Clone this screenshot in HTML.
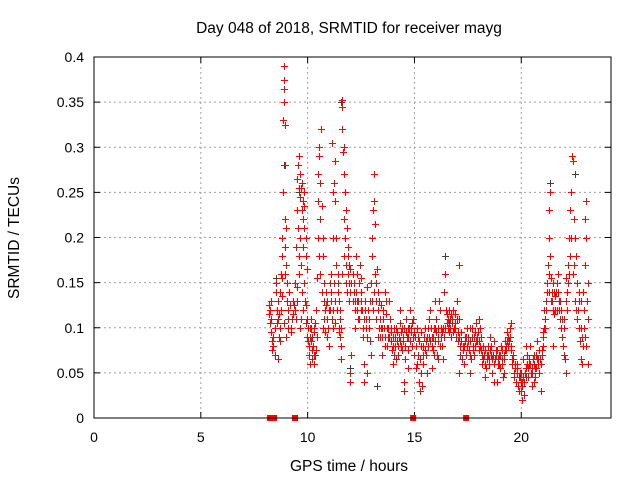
<!DOCTYPE html>
<html><head><meta charset="utf-8">
<style>
html,body{margin:0;padding:0;background:#fff;}
svg{display:block;font-family:"Liberation Sans",sans-serif;}
</style></head>
<body>
<svg id="chart" width="640" height="480" viewBox="0 0 640 480" xmlns="http://www.w3.org/2000/svg">
<rect width="640" height="480" fill="#fff"/>
<text x="349" y="33" font-size="15.5" text-anchor="middle" fill="#000">Day 048 of 2018, SRMTID for receiver mayg</text>
<text x="349" y="471" font-size="15.5" text-anchor="middle" fill="#000">GPS time / hours</text>
<text transform="translate(19,238) rotate(-90)" font-size="15.5" text-anchor="middle" fill="#000">SRMTID / TECUs</text>
<g id="grid"></g>
<g id="ticks"></g>
<g id="marks"></g>
<rect x="94" y="57" width="517" height="361" fill="none" stroke="#000" stroke-width="1"/>
</svg>
<script>
const xTicks = [0,5,10,15,20];
const yTicks = [0,0.05,0.1,0.15,0.2,0.25,0.3,0.35,0.4];
const yTickLabels = ["0","0.05","0.1","0.15","0.2","0.25","0.3","0.35","0.4"];
const redPairs = [
8.2,.125,8.2,.115,8.25,.105,8.3,.13,8.3,.095,8.35,.085,8.35,.075,8.4,.08,8.45,.07,8.45,.10,8.5,.14,8.5,.15,8.55,.12,8.6,.13,8.6,.11,8.65,.09,8.7,.10,8.7,.14,8.75,.16,8.75,.12,8.8,.18,8.8,.2,8.85,.33,8.85,.25,8.88,.39,8.88,.375,8.9,.365,8.9,.35,8.92,.325,8.93,.28,8.95,.22,8.95,.19,9.0,.21,9.0,.17,9.05,.15,9.05,.13,9.1,.11,9.1,.12,9.15,.14,9.2,.1,9.25,.11,9.3,.13,9.3,.115,9.0,.09,8.9,.105,8.7,.085,8.6,.065,
9.4,.15,9.45,.19,9.5,.23,9.5,.265,9.55,.28,9.6,.255,9.6,.29,9.65,.245,9.7,.255,9.75,.26,9.8,.24,9.8,.22,9.85,.21,9.85,.235,9.9,.2,9.9,.18,9.7,.17,9.6,.16,9.5,.13,9.75,.14,9.8,.12,9.9,.125,9.95,.11,10.0,.1,10.0,.085,9.7,.11,9.4,.12,9.55,.21,9.85,.25,9.95,.165,
10.05,.07,10.1,.06,10.1,.09,10.15,.1,10.2,.075,10.2,.065,10.25,.08,10.3,.095,10.3,.06,10.35,.07,10.4,.12,10.45,.155,10.5,.24,10.5,.27,10.55,.29,10.55,.3,10.6,.26,10.6,.22,10.62,.32,10.65,.235,10.7,.2,10.7,.18,10.75,.15,10.75,.13,10.8,.12,10.85,.14,10.9,.11,10.9,.09,10.95,.10,10.3,.1,10.4,.075,10.15,.11,
11.0,.08,11.05,.15,11.1,.16,11.1,.13,11.15,.305,11.2,.12,11.2,.25,11.25,.26,11.3,.285,11.3,.24,11.35,.2,11.4,.16,11.4,.14,11.45,.13,11.5,.11,11.5,.09,11.55,.08,11.55,.065,11.6,.352,11.6,.345,11.62,.32,11.65,.295,11.7,.3,11.7,.27,11.75,.25,11.8,.23,11.85,.21,11.9,.19,11.95,.17,12.0,.165,11.75,.2,11.8,.15,11.9,.18,11.95,.13,12.0,.05,12.0,.04,12.05,.07,11.3,.105,11.45,.095,11.2,.1,
12.1,.16,12.15,.14,12.2,.12,12.25,.18,12.3,.13,12.35,.11,12.4,.15,12.45,.17,12.5,.14,12.55,.12,12.6,.09,12.65,.06,12.65,.04,12.7,.13,12.75,.11,12.8,.145,12.85,.1,12.9,.085,12.95,.07,13.0,.18,13.0,.2,13.05,.23,13.1,.27,13.1,.24,13.15,.215,13.15,.16,13.2,.15,13.25,.165,13.3,.14,13.35,.13,13.4,.11,13.45,.125,13.5,.1,13.5,.07,12.3,.16,12.5,.155,12.8,.05,13.3,.09,12.2,.1,
13.55,.12,13.6,.14,13.65,.13,13.7,.1,13.75,.09,13.8,.13,13.85,.11,13.9,.085,13.95,.075,14.0,.09,14.05,.1,14.1,.08,14.15,.065,14.2,.095,14.25,.07,14.3,.105,14.35,.08,14.4,.1,14.45,.085,14.5,.03,14.5,.04,14.55,.065,14.6,.11,14.65,.09,14.7,.075,14.75,.1,14.8,.12,14.85,.095,14.9,.08,14.95,.11,13.6,.08,14.0,.06,14.3,.12,14.7,.055,
15.0,.07,15.05,.055,15.1,.1,15.15,.09,15.2,.04,15.25,.03,15.3,.05,15.3,.08,15.35,.035,15.4,.06,15.45,.09,15.5,.1,15.55,.07,15.6,.05,15.65,.08,15.7,.11,15.75,.12,15.8,.09,15.85,.075,15.9,.1,15.95,.085,16.0,.11,16.05,.07,16.1,.09,16.15,.13,16.2,.12,16.25,.1,16.3,.08,16.35,.065,16.4,.14,16.45,.16,16.5,.105,16.55,.1,16.6,.095,16.65,.11,16.7,.09,16.75,.105,16.8,.12,16.85,.1,16.9,.115,16.95,.09,17.0,.13,17.05,.085,17.1,.05,17.15,.07,17.2,.095,17.25,.08,17.3,.06,17.35,.09,17.4,.07,17.45,.1,16.1,.065,15.8,.055,16.6,.12,17.1,.11,15.95,.13,17.1,.17,
17.5,.09,17.55,.075,17.6,.05,17.65,.065,17.7,.1,17.75,.08,17.8,.07,17.85,.095,17.9,.105,17.95,.085,18.0,.075,18.05,.1,18.1,.09,18.15,.06,18.2,.08,18.25,.07,18.3,.045,18.35,.055,18.4,.065,18.45,.08,18.5,.06,18.55,.09,18.6,.07,18.65,.05,18.7,.085,18.75,.065,18.8,.075,18.85,.04,18.9,.06,18.95,.07,19.0,.055,19.05,.08,19.1,.065,19.15,.045,19.2,.07,19.25,.085,19.3,.075,19.35,.095,19.4,.09,19.45,.1,19.5,.08,19.55,.065,19.6,.07,19.65,.045,19.7,.055,19.75,.04,19.8,.06,19.85,.035,19.9,.03,19.95,.045,18.0,.11,17.6,.1,18.7,.04,19.2,.05,19.5,.105,
20.0,.03,20.0,.05,20.05,.02,20.05,.04,20.1,.065,20.15,.025,20.2,.055,20.25,.07,20.3,.045,20.35,.06,20.4,.08,20.45,.05,20.5,.035,20.55,.065,20.6,.07,20.65,.045,20.7,.055,20.75,.085,20.8,.065,20.85,.05,20.9,.03,20.95,.07,21.0,.08,21.0,.09,20.2,.08,20.6,.04,
21.05,.1,21.1,.11,21.15,.12,21.2,.14,21.25,.17,21.3,.2,21.3,.23,21.35,.25,21.35,.18,21.4,.155,21.45,.13,21.5,.12,21.55,.115,21.6,.135,21.65,.15,21.7,.16,21.75,.13,21.8,.11,21.85,.1,21.9,.09,21.95,.08,22.0,.07,22.05,.065,22.1,.05,22.15,.12,22.2,.17,22.25,.2,22.3,.23,22.35,.25,22.38,.29,22.4,.285,22.45,.22,22.5,.2,22.55,.18,22.6,.15,22.65,.12,22.7,.1,22.75,.085,22.8,.065,22.85,.06,22.9,.14,22.95,.12,23.0,.17,23.0,.22,23.05,.24,23.05,.2,23.1,.15,23.1,.11,22.1,.155,21.5,.08,22.8,.13,23.1,.06
];
const redPairsExtra = [
8.22,.12,8.28,.11,8.4,.09,8.55,.105,8.65,.115,8.78,.135,8.82,.155,8.95,.16,9.08,.1,9.18,.125,9.22,.095,9.35,.125,
9.45,.11,9.52,.145,9.62,.2,9.66,.27,9.72,.23,9.78,.19,9.82,.15,9.88,.13,9.92,.105,9.98,.09,9.65,.1,9.58,.18,
10.08,.08,10.12,.1,10.18,.085,10.22,.09,10.28,.07,10.35,.105,10.42,.09,10.48,.2,10.52,.18,10.58,.16,10.66,.14,10.72,.1,10.78,.11,10.82,.095,10.88,.125,10.92,.13,10.98,.12,
11.05,.12,11.08,.14,11.12,.11,11.18,.2,11.22,.15,11.28,.13,11.32,.17,11.36,.12,11.42,.15,11.48,.1,11.52,.12,11.58,.1,11.62,.16,11.68,.22,11.72,.18,11.78,.17,11.82,.14,11.88,.16,11.92,.15,11.98,.14,
12.05,.15,12.12,.13,12.18,.15,12.22,.13,12.28,.14,12.32,.12,12.38,.13,12.42,.11,12.48,.12,12.52,.13,12.58,.1,12.62,.11,12.68,.12,12.72,.1,12.78,.09,12.82,.12,12.88,.11,12.92,.13,12.98,.15,13.02,.13,13.08,.12,13.12,.14,13.18,.13,13.22,.11,13.28,.12,13.32,.1,13.38,.09,13.42,.1,13.48,.09,
13.52,.11,13.58,.1,13.62,.09,13.68,.115,13.72,.08,13.78,.1,13.82,.09,13.88,.1,13.92,.095,13.98,.08,14.02,.07,14.08,.09,14.12,.1,14.18,.085,14.22,.08,14.28,.09,14.32,.085,14.38,.095,14.42,.075,14.48,.09,14.52,.1,14.58,.08,14.62,.095,14.68,.1,14.72,.09,14.78,.085,14.82,.1,14.88,.105,14.92,.09,14.98,.095,
15.02,.09,15.08,.08,15.12,.06,15.18,.07,15.22,.085,15.28,.065,15.32,.095,15.38,.08,15.42,.07,15.48,.075,15.52,.085,15.58,.09,15.62,.1,15.68,.09,15.72,.085,15.78,.1,15.82,.08,15.88,.09,15.92,.07,15.98,.1,16.02,.095,16.08,.085,16.12,.1,16.18,.08,16.22,.09,16.28,.095,16.32,.1,16.38,.09,16.42,.1,16.48,.12,16.52,.115,16.58,.11,16.62,.105,16.68,.1,16.72,.115,16.78,.11,16.82,.095,16.88,.105,16.92,.1,16.98,.11,17.02,.095,17.08,.09,17.12,.08,17.18,.085,17.22,.065,17.28,.075,17.32,.08,17.38,.085,17.42,.09,17.48,.08,
17.52,.085,17.58,.07,17.62,.085,17.68,.09,17.72,.075,17.78,.09,17.82,.08,17.88,.085,17.92,.09,17.98,.095,18.02,.085,18.08,.08,18.12,.075,18.18,.07,18.22,.065,18.28,.075,18.32,.06,18.38,.07,18.42,.07,18.48,.065,18.52,.075,18.58,.08,18.62,.065,18.68,.07,18.72,.06,18.78,.065,18.82,.07,18.88,.075,18.92,.065,18.98,.06,19.02,.07,19.08,.075,19.12,.06,19.18,.065,19.22,.075,19.28,.08,19.32,.085,19.38,.08,19.42,.085,19.48,.09,19.52,.075,19.58,.06,19.62,.065,19.68,.05,19.72,.06,19.78,.05,19.82,.055,19.88,.045,19.92,.05,19.98,.04,
20.02,.035,20.08,.045,20.12,.04,20.18,.05,20.22,.045,20.28,.06,20.32,.055,20.38,.065,20.42,.06,20.48,.055,20.52,.05,20.58,.06,20.62,.055,20.68,.07,20.72,.065,20.78,.06,20.82,.075,20.88,.065,20.92,.06,20.98,.075,
21.02,.095,21.08,.12,21.12,.1,21.18,.13,21.22,.15,21.28,.16,21.32,.14,21.38,.13,21.42,.14,21.48,.15,21.52,.14,21.58,.12,21.62,.14,21.68,.12,21.72,.14,21.78,.12,21.82,.13,21.88,.12,21.92,.11,21.98,.1,22.02,.11,22.08,.13,22.12,.14,22.18,.15,22.22,.16,22.28,.18,22.32,.2,22.42,.16,22.48,.17,22.52,.13,22.58,.12,22.62,.11,22.68,.14,22.72,.13,22.78,.1,22.82,.09,22.88,.08,22.92,.1,22.98,.09,23.02,.08,23.08,.13
];
const blackPairs = [8.5,.155,8.9,.28,9.6,.25,11.55,.35,12.0,.055,13.25,.035,16.45,.18,21.35,.26,22.5,.27];
const squaresX = [8.24,8.43,9.41,14.94,17.42];
const NS='http://www.w3.org/2000/svg';
function sx(v){return 94+v*(517/24.2);}
function sy(v){return 418-v*(361/0.4);}
const grid=document.getElementById('grid'),ticks=document.getElementById('ticks'),marks=document.getElementById('marks');
function mk(t,a,p){const e=document.createElementNS(NS,t);for(const k in a)e.setAttribute(k,a[k]);p.appendChild(e);return e;}
xTicks.forEach(function(v){
  const x=sx(v);
  if(v>0){const g=mk('line',{x1:x,x2:x,y1:57,y2:418,stroke:'#a0a0a0','stroke-dasharray':'2,3'},grid);
  
  }
  mk('line',{x1:x,x2:x,y1:418,y2:412,stroke:'#000'},ticks);
  mk('line',{x1:x,x2:x,y1:57,y2:63,stroke:'#000'},ticks);
  const t=mk('text',{x:x,y:442,'font-size':14,'text-anchor':'middle'},ticks);t.textContent=v;
  
  
});
yTicks.forEach(function(v,i){
  const y=sy(v);
  if(i>0&&i<yTicks.length-1){const g=mk('line',{x1:94,x2:611,y1:y,y2:y,stroke:'#a0a0a0','stroke-dasharray':'2,3'},grid);
  
  }
  mk('line',{x1:94,x2:100,y1:y,y2:y,stroke:'#000'},ticks);
  mk('line',{x1:611,x2:605,y1:y,y2:y,stroke:'#000'},ticks);
  const t=mk('text',{x:84,y:y+5,'font-size':14,'text-anchor':'end'},ticks);t.textContent=yTickLabels[i];
  
  
});
function plus(pairs,col,name){
  let d='';
  for(let i=0;i<pairs.length;i+=2){const x=Math.round(sx(pairs[i]))+0.5,y=Math.round(sy(pairs[i+1]))+0.5;d+='M'+(x-3.5)+' '+y+'h7M'+x+' '+(y-3.5)+'v7';}
  const p=mk('path',{d:d,stroke:col,'stroke-width':1,fill:'none'},marks);
  
  
}
plus(blackPairs,'#404040','black-series-points');
plus(redPairs,'#ff0000','red-series-points');
plus(redPairsExtra,'#ff0000','red-series-points-extra');
squaresX.forEach(function(v){
  const r=mk('rect',{x:sx(v)-3,y:415,width:6,height:6,fill:'#ff0000'},marks);
  
  
});
</script>
</body></html>
